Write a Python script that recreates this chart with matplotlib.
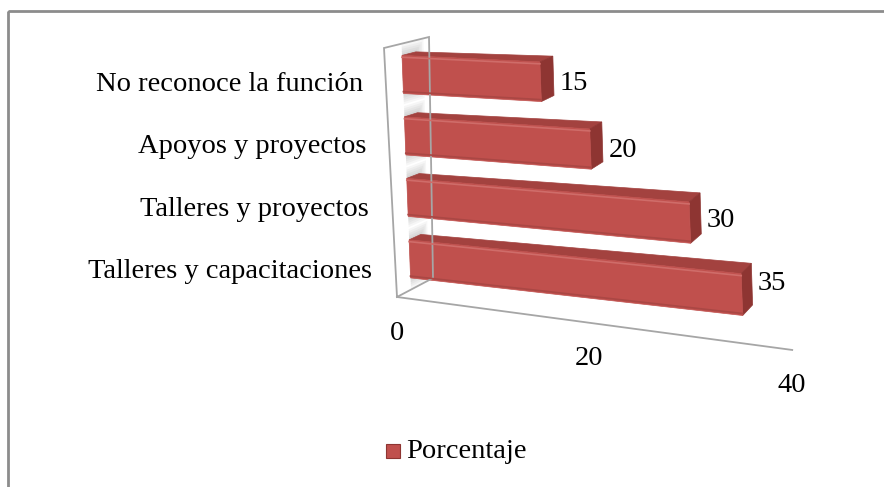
import numpy as np
import matplotlib
matplotlib.use('Agg')
import matplotlib.pyplot as plt
from matplotlib.patches import Polygon, Rectangle

# chart data
categories = ['Talleres y capacitaciones', 'Talleres y proyectos',
              'Apoyos y proyectos', 'No reconoce la función']
values = [35, 30, 20, 15]
value_ticks = [0, 20, 40]
series_name = 'Porcentaje'

N_CAT = len(categories)
BAR_H = 0.62          # bar thickness in category units
D1, D2 = 0.39, 0.70   # bar depth range (0 = front, 1 = back)

RED = '#C0504D'
RED_TOP = '#A3423F'
RED_END = '#8E3532'
GRID = '#A6A6A6'

plt.rcParams['font.family'] = ['Liberation Serif', 'DejaVu Serif']

# pseudo-perspective view of the 3D box, in pixels
ORIGIN = (397.0, 297.0)       # value 0, floor, front
VAL_A, VAL_Q = 9.3, 0.0145    # px per value unit (with foreshortening)
CAT_X, CAT_Y = -3.25, -62.25  # px per category unit
DEP_X, DEP_Y = 36.0, -19.0    # px per full depth at the floor


def proj(v, c, d):
    u = (VAL_A * v + VAL_Q * v * v) * (1 - 0.1 * d * (1 - d))
    shrink = 1 - u / 1600.0
    slope = 0.134 - 0.0176 * c - 0.059 * d
    x = ORIGIN[0] + CAT_X * c + u + d * (DEP_X + 2.25 * c) * shrink
    y = ORIGIN[1] + CAT_Y * c + slope * u + d * (DEP_Y + 2.0 * c) * shrink
    return x, y


def face(pts):
    return [proj(*p) for p in pts]


fig = plt.figure(figsize=(8.84, 4.87), dpi=100)
ax = fig.add_axes([0, 0, 1, 1])
ax.set_xlim(0, 884)
ax.set_ylim(487, 0)
ax.axis('off')

# outer chart border
ax.add_patch(Rectangle((8.3, 11.3), 900, 500, fill=False, ec='#8C8C8C', lw=2))

# wall and floor lines
v_max = value_ticks[-1]
wall = [(0, 0, 0), (0, N_CAT, 0), (0, N_CAT, 1), (0, 0, 1), (0, 0, 0)]
xs, ys = zip(*face(wall))
ax.plot(xs, ys, color=GRID, lw=1.3, solid_joinstyle='miter')
xs, ys = zip(*face([(0, 0, 0), (v_max, 0, 0)]))
ax.plot(xs, ys, color=GRID, lw=1.3)

# soft shading on the wall around each bar
for i in range(N_CAT):
    c0 = i + (1 - BAR_H) / 2
    c1 = c0 + BAR_H
    for k in range(6):
        e = 0.035 * k
        pts = [(0, c0 - e, D1), (0, c1 + e, D1), (0, c1 + e, D2 + e), (0, c0 - e, D2 + e)]
        ax.add_patch(Polygon(face(pts), closed=True, fc='#808080', ec='none', alpha=0.07))

# bars
for i in reversed(range(N_CAT)):
    val = values[i]
    c0 = i + (1 - BAR_H) / 2
    c1 = c0 + BAR_H
    top = [(0, c1, D1), (val, c1, D1), (val, c1, D2), (0, c1, D2)]
    end = [(val, c0, D1), (val, c0, D2), (val, c1, D2), (val, c1, D1)]
    front = [(0, c0, D1), (val, c0, D1), (val, c1, D1), (0, c1, D1)]
    ax.add_patch(Polygon(face(top), closed=True, fc=RED_TOP, ec=RED_TOP, lw=0.5))
    ax.add_patch(Polygon(face(end), closed=True, fc=RED_END, ec=RED_END, lw=0.5))
    ax.add_patch(Polygon(face(front), closed=True, fc=RED, ec=RED, lw=0.5))
    # bevel highlight / shade along the front face edges
    xs, ys = zip(*face([(0, c1 - 0.03, D1), (val, c1 - 0.03, D1)]))
    ax.plot(xs, ys, color='#CF6C69', lw=1.2)
    xs, ys = zip(*face([(0, c0 + 0.03, D1), (val, c0 + 0.03, D1)]))
    ax.plot(xs, ys, color='#AA4744', lw=1.2)

    # data label, right of the bar end (lifted a bit on the lower bars)
    cm = (c0 + c1) / 2
    lx = proj(val, cm, D2)[0]
    ly = proj(val, cm, D1)[1] - 13 * ((N_CAT - 0.5 - cm) / 3) ** 3
    ax.text(lx + 6, ly + 2, f'{val}', ha='left', va='center', fontsize=20.5)

    # category label
    tx, ty = proj(0, i + 0.5, 0)
    ax.text(tx - 23, ty + 12, categories[i], ha='right', va='baseline', fontsize=20.5)

# value axis labels
for t in value_ticks:
    x, y = proj(t, 0, 0)
    ax.text(x, y + 36, f'{t}', ha='center', va='center', fontsize=20.5)

# legend
ax.add_patch(Rectangle((386, 444), 14, 14, fc=RED, ec=RED_END, lw=0.8))
ax.text(406, 452, series_name, ha='left', va='center', fontsize=20.5)

fig.savefig('out.png', dpi=100)
